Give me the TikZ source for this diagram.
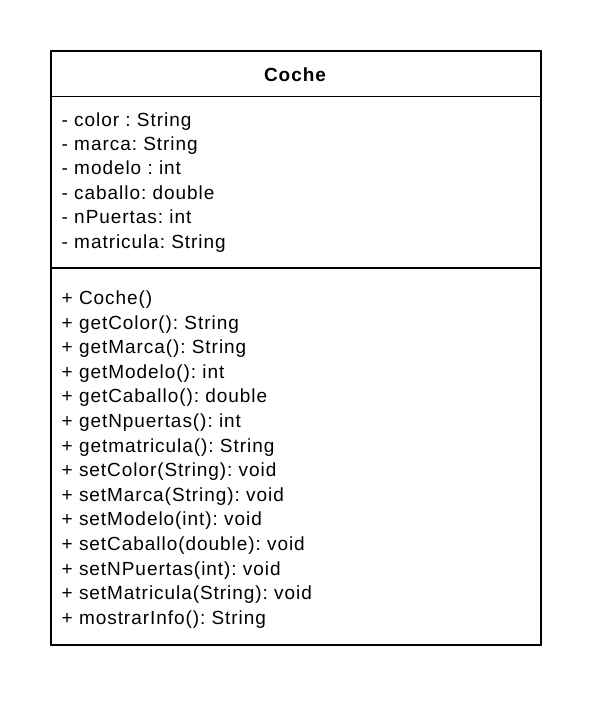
\documentclass[tikz,border=0pt]{standalone}
\usepackage{fontspec}
\setmainfont{Liberation Sans}[LetterSpace=5.0]
\frenchspacing
\begin{document}
\begin{tikzpicture}[x=1pt, y=-1pt, line width=1.4pt,
  class line/.style={draw=black, line width=1.4pt},
  member/.style={anchor=base west, inner sep=0pt, font=\fontsize{19}{22}\selectfont}]%
\useasboundingbox (0,0) rectangle (591,702);
% class box
\coordinate (nw) at (51,51);
\coordinate (se) at (541,645);
\draw[class line] (nw) rectangle (se);
\coordinate (s1w) at (51,96.5);
\coordinate (s1e) at (541,96.5);
\coordinate (s2w) at (51,268);
\coordinate (s2e) at (541,268);
\draw[class line] (s1w) -- (s1e);
\draw[class line] (s2w) -- (s2e);
% title
\node[anchor=base, inner sep=0pt, font=\fontsize{19}{22}\selectfont\bfseries] (title) at (295,81) {Coche};
% attributes
\foreach \txt [count=\i from 0] in {- color : String, - marca: String, - modelo : int,
  - caballo: double, - nPuertas: int, - matricula: String}
  \node[member] (attr\i) at (61,126+24.4*\i) {\txt};
% methods
\foreach \txt [count=\i from 0] in {+ Coche(), + getColor(): String, + getMarca(): String,
  + getModelo(): int, + getCaballo(): double, + getNpuertas(): int, + getmatricula(): String,
  + setColor(String): void, + setMarca(String): void, + setModelo(int): void,
  + setCaballo(double): void, + setNPuertas(int): void, + setMatricula(String): void,
  + mostrarInfo(): String}
  \node[member] (meth\i) at (61,304.5+24.6*\i) {\txt};
\end{tikzpicture}
\end{document}
